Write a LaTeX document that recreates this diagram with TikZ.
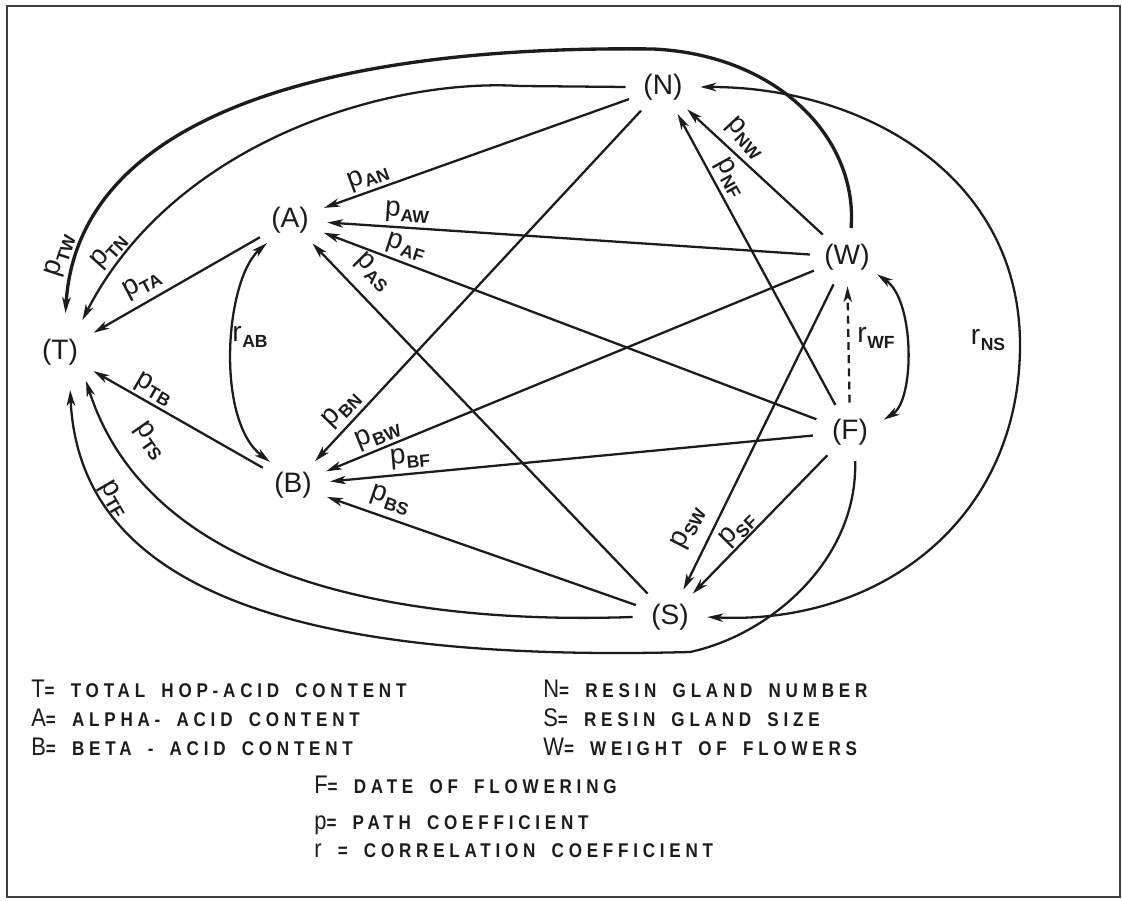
\documentclass[tikz,border=0pt]{standalone}
\usepackage{fontspec}
\setmainfont{Liberation Sans}
\newfontfamily\legfont[FakeStretch=0.86,LetterSpace=24,WordSpace=1.7]{Liberation Sans}
\usetikzlibrary{arrows.meta,shapes.geometric}

\definecolor{ink}{RGB}{28,28,28}

% path coefficient and correlation labels
\newcommand\pc[1]{{\fontsize{16}{16}\selectfont p}\kern0.3pt\raisebox{-3pt}{\fontsize{10}{10}\selectfont\bfseries #1}}
\newcommand\rc[1]{{\fontsize{16}{16}\selectfont r}\kern0.3pt\raisebox{-3pt}{\fontsize{10}{10}\selectfont\bfseries #1}}
\newcommand\initial[1]{{\mdseries\fontsize{14.5}{14.5}\selectfont #1}}

\tikzset{
  var/.style={ellipse, minimum width=1.48cm, minimum height=1.16cm, inner sep=0pt,
              font=\fontsize{16}{16}\selectfont, text=ink},
  pathc/.style={draw=ink, line width=1.3pt, -{Stealth[length=9pt,width=4.8pt,inset=2.5pt]}},
  corr/.style={draw=ink, line width=1.3pt,
               {Stealth[length=9pt,width=4.8pt,inset=2.5pt]}-{Stealth[length=9pt,width=4.8pt,inset=2.5pt]}},
  lab/.style={text=ink, inner sep=0pt},
  legend/.style={anchor=base west, inner sep=0pt, text=ink,
                 font=\legfont\bfseries\fontsize{11.3}{12}\selectfont}
}

\begin{document}
\begin{tikzpicture}[x=0.02cm, y=-0.02cm]
\useasboundingbox (0,0) rectangle (1122,901);
\fill[white] (0,0) rectangle (1122,901);
\draw[draw=ink!85, line width=0.9pt] (7,6) rectangle (1120,897);

% variables
\node[var] (N) at (663,87)  {(N)};
\node[var] (A) at (290,220) {(A)};
\node[var] (W) at (847,257) {(W)};
\node[var, minimum width=1.52cm, minimum height=1.56cm] (T) at (60,352) {(T)};
\node[var] (B) at (293,485) {(B)};
\node[var] (F) at (850,432) {(F)};
\node[var] (S) at (670,617) {(S)};

% curved paths into T
\draw[pathc, line width=1.9pt] (W.82) .. controls (858,140) and (780,55) .. (653,49)
      .. controls (330,45) and (78,115) .. (T.82);
\draw[pathc] (N.west) -- (520,86) .. controls (390,78) and (175,140) .. (T.55);
\draw[pathc] (S.west) .. controls (400,625) and (150,580) .. (T.-48);
\draw[pathc] (F.-80) .. controls (858,560) and (770,635) .. (690,652)
      .. controls (320,662) and (80,600) .. (T.-75);

% straight paths
\draw[pathc] (A) -- (T);
\draw[pathc] (B) -- (T);
\draw[pathc] (N) -- (A);
\draw[pathc] (W) -- (A);
\draw[pathc] (F) -- (A);
\draw[pathc] (S) -- (A);
\draw[pathc] (N) -- (B);
\draw[pathc] (W) -- (B);
\draw[pathc] (F) -- (B);
\draw[pathc] (S) -- (B);
\draw[pathc] (W) -- (S);
\draw[pathc] (F) -- (S);
\draw[pathc] (W) -- (N);
\draw[pathc] (F) -- (N);
\draw[pathc, dash pattern=on 4.5pt off 3pt] (F) -- (W);

% correlations
\draw[corr] (A.-135) .. controls (225,280) and (215,420) .. (B.135);
\draw[corr] (W.-30) .. controls (915,300) and (915,400) .. (F.20);
\draw[corr] (N.east) .. controls (863,87) and (1020,175) .. (1020,345)
      .. controls (1020,520) and (880,625) .. (S.east);

% labels
\node[lab, rotate=72]  (lTW) at (60,255)  {\pc{TW}};
\node[lab, rotate=48]  (lTN) at (109,251) {\pc{TN}};
\node[lab, rotate=28]  (lTA) at (142,284) {\pc{TA}};
\node[lab, rotate=20]  (lAN) at (368,177) {\pc{AN}};
\node[lab, rotate=-4]  (lAW) at (407,212) {\pc{AW}};
\node[lab, rotate=-18] (lAF) at (406,247) {\pc{AF}};
\node[lab, rotate=-45] (lAS) at (373,272) {\pc{AS}};
\node[lab]             (lAB) at (250,337) {\rc{AB}};
\node[lab, rotate=-30] (lTB) at (154,389) {\pc{TB}};
\node[lab, rotate=-55] (lTS) at (150,441) {\pc{TS}};
\node[lab, rotate=-60] (lTF) at (114,499) {\pc{TF}};
\node[lab, rotate=46]  (lBN) at (342,409) {\pc{BN}};
\node[lab, rotate=22]  (lBW) at (378,435) {\pc{BW}};
\node[lab, rotate=5]   (lBF) at (410,458) {\pc{BF}};
\node[lab, rotate=-19] (lBS) at (390,500) {\pc{BS}};
\node[lab, rotate=-47] (lNW) at (745,138) {\pc{NW}};
\node[lab, rotate=-61] (lNF) at (730,178) {\pc{NF}};
\node[lab, rotate=63]  (lSW) at (688,528) {\pc{SW}};
\node[lab, rotate=45]  (lSF) at (738,530) {\pc{SF}};
\node[lab]             (lWF) at (876,338) {\rc{WF}};
\node[lab]             (lNS) at (988,340) {\rc{NS}};

% key
\node[legend] (kT) at (31,697) {\initial{T}= TOTAL HOP-ACID CONTENT};
\node[legend] (kA) at (31,726) {\initial{A}= ALPHA- ACID CONTENT};
\node[legend] (kB) at (31,755) {\initial{B}= BETA - ACID CONTENT};
\node[legend] (kN) at (543,697) {\initial{N}= RESIN GLAND NUMBER};
\node[legend] (kS) at (543,726) {\initial{S}= RESIN GLAND SIZE};
\node[legend] (kW) at (543,755) {\initial{W}= WEIGHT OF FLOWERS};
\node[legend] (kF) at (314,793) {\initial{F}= DATE OF FLOWERING};
\node[legend] (kP) at (314,829) {\initial{p}= PATH COEFFICIENT};
\node[legend] (kR) at (314,857) {\initial{r} = CORRELATION COEFFICIENT};
\end{tikzpicture}
\end{document}
